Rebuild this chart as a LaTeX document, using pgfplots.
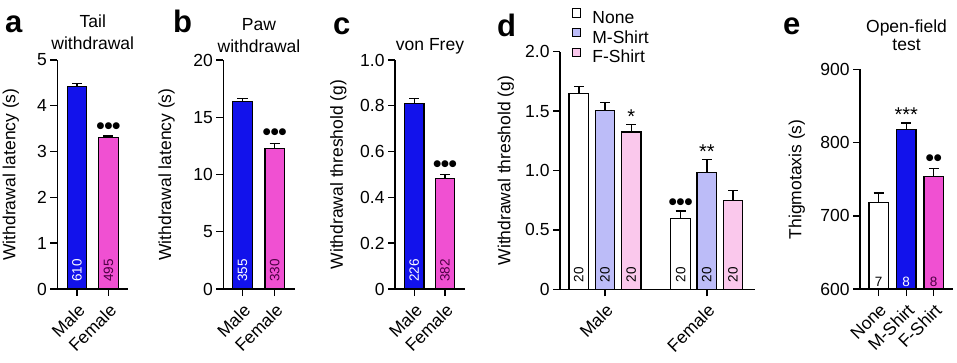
\documentclass[border=0pt]{standalone}
\usepackage{fontspec}
\setmainfont{Liberation Sans}
\newfontfamily\djv{DejaVu Sans}
\usepackage{pgfplots}
\pgfplotsset{compat=1.18}
\usetikzlibrary{calc}

\definecolor{mblue}{RGB}{18,18,235}
\definecolor{fpink}{RGB}{240,80,210}
\definecolor{lblue}{RGB}{188,188,248}
\definecolor{lpink}{RGB}{250,200,236}
\definecolor{dnum}{RGB}{75,0,65}

\newcommand\ff{\fontsize{17.5bp}{20bp}\selectfont}
\newcommand\nf{\fontsize{13.5bp}{15bp}\selectfont}
\newcommand\lf{\fontsize{31bp}{34bp}\selectfont\bfseries}
\newcommand\af{\fontsize{20bp}{20bp}\selectfont}
\newcommand\sdots[1]{{\djv\fontsize{9bp}{9bp}\selectfont #1}}

\tikzset{xext/.style={line width=1.4bp, black}}

\pgfplotsset{
  panel/.style={
    scale only axis,
    axis x line*=bottom, axis y line*=left,
    axis line style={line width=1.4bp, black},
    every tick/.style={black, line width=1.4bp},
    major tick length=7bp,
    tick align=outside,
    ymin=0,
    ybar, bar width=19.5bp,
    tick label style={font=\ff},
    label style={font=\ff},
    /pgf/number format/assume math mode=true,
    x tick label style={rotate=45, anchor=north east, inner sep=1bp},
    xticklabel shift=5bp,
    ylabel style={anchor=south},
    minor tick num=0,
    clip mode=individual,
    error bars/y dir=plus, error bars/y explicit,
    error bars/error mark options={rotate=90, line width=1.4bp, mark size=5bp, black},
    error bars/error bar style={line width=1.4bp, black},
    every axis plot/.append style={draw=black, line width=1.2bp},
  },
}

\begin{document}
\begin{tikzpicture}
\path[use as bounding box] (0,0) rectangle (957bp,363bp);

% ---------- a ----------
\begin{axis}[panel, at={(57.5bp,74bp)}, anchor=south west, width=70.5bp, height=229bp,
  xmin=0.377, xmax=2.623, ymax=5, ytick={0,1,2,3,4,5},
  xtick={1,2}, xticklabels={Male,Female},
  ylabel={Withdrawal latency (s)},
  ylabel style={at={($(rel axis cs:0,0.5)+(-35bp,0)$)}}]
\addplot[fill=mblue, bar shift=0pt] coordinates {(1,4.43) +- (0,0.06)};
\addplot[fill=fpink, bar shift=0pt] coordinates {(2,3.30) +- (0,0.04)};
\draw[xext] ([xshift=-7bp]rel axis cs:0,0) -- (rel axis cs:0,0);
\node[rotate=90, anchor=west, text=white, font=\nf, inner sep=0pt] at ([yshift=7bp]axis cs:1,0) {610};
\node[rotate=90, anchor=west, text=dnum, font=\nf, inner sep=0pt] at ([yshift=7bp]axis cs:2,0) {495};
\node[inner sep=0pt] at ([yshift=10bp]axis cs:2,3.34) {\sdots{●●●}};
\end{axis}

% ---------- b ----------
\begin{axis}[panel, at={(223.3bp,74bp)}, anchor=south west, width=71.7bp, height=229bp,
  xmin=0.404, xmax=2.63, ymax=20, ytick={0,5,10,15,20},
  xtick={1,2}, xticklabels={Male,Female},
  ylabel={Withdrawal latency (s)},
  ylabel style={at={($(rel axis cs:0,0.5)+(-45bp,0)$)}}]
\addplot[fill=mblue, bar shift=0pt] coordinates {(1,16.4) +- (0,0.26)};
\addplot[fill=fpink, bar shift=0pt] coordinates {(2,12.3) +- (0,0.40)};
\draw[xext] ([xshift=-7bp]rel axis cs:0,0) -- (rel axis cs:0,0);
\node[rotate=90, anchor=west, text=white, font=\nf, inner sep=0pt] at ([yshift=7bp]axis cs:1,0) {355};
\node[rotate=90, anchor=west, text=dnum, font=\nf, inner sep=0pt] at ([yshift=7bp]axis cs:2,0) {330};
\node[inner sep=0pt] at ([yshift=11bp]axis cs:2,12.7) {\sdots{●●●}};
\end{axis}

% ---------- c ----------
\begin{axis}[panel, at={(395bp,74bp)}, anchor=south west, width=70bp, height=229bp,
  xmin=0.371, xmax=2.65, ymax=1, ytick={0,0.2,0.4,0.6,0.8,1.0},
  yticklabels={0,0.2,0.4,0.6,0.8,1.0},
  xtick={1,2}, xticklabels={Male,Female},
  ylabel={Withdrawal threshold (g)},
  ylabel style={at={($(rel axis cs:0,0.5)+(-45bp,0)$)}}]
\addplot[fill=mblue, bar shift=0pt] coordinates {(1,0.81) +- (0,0.022)};
\addplot[fill=fpink, bar shift=0pt] coordinates {(2,0.483) +- (0,0.016)};
\draw[xext] ([xshift=-7bp]rel axis cs:0,0) -- (rel axis cs:0,0);
\node[rotate=90, anchor=west, text=white, font=\nf, inner sep=0pt] at ([yshift=7bp]axis cs:1,0) {226};
\node[rotate=90, anchor=west, text=dnum, font=\nf, inner sep=0pt] at ([yshift=7bp]axis cs:2,0) {382};
\node[inner sep=0pt] at ([yshift=10.7bp]axis cs:2,0.499) {\sdots{●●●}};
\end{axis}

% ---------- d ----------
\begin{axis}[panel, at={(560bp,73.7bp)}, anchor=south west, width=195bp, height=237.6bp,
  xmin=0.558, xmax=2.473, ymax=2, ytick={0,0.5,1.0,1.5,2.0},
  yticklabels={0,0.5,1.0,1.5,2.0},
  xtick={1,2}, xticklabels={Male,Female},
  ylabel={Withdrawal threshold (g)},
  ylabel style={at={($(rel axis cs:0,0.5)+(-42.5bp,0)$)}},
  legend style={at={(0.06,1.184)}, anchor=north west, draw=none, fill=none, font=\ff,
    inner sep=0pt, row sep=1.5bp, nodes={text height=12bp, text depth=2bp, inner ysep=1bp, inner xsep=3bp}},
  legend cell align=left,
  legend image code/.code={\draw[#1, line width=1bp] (0bp,1.2bp) rectangle (8.5bp,9.7bp); \path[draw=none, fill=none] (0bp,0bp) -- (17bp,0bp);}]
\addplot[fill=white, bar shift=-26.2bp] coordinates {(1,1.65) +- (0,0.056) (2,0.598) +- (0,0.061)};
\addlegendentry{None}
\addplot[fill=lblue, bar shift=0pt] coordinates {(1,1.503) +- (0,0.067) (2,0.985) +- (0,0.109)};
\addlegendentry{M-Shirt}
\addplot[fill=lpink, bar shift=26.2bp] coordinates {(1,1.324) +- (0,0.065) (2,0.746) +- (0,0.084)};
\addlegendentry{F-Shirt}
\draw[xext] ([xshift=-7bp]rel axis cs:0,0) -- (rel axis cs:0,0);
\node[rotate=90, anchor=west, text=black, font=\nf, inner sep=0pt] at ([xshift=-26.2bp,yshift=7bp]axis cs:1,0) {20};
\node[rotate=90, anchor=west, text=black, font=\nf, inner sep=0pt] at ([yshift=7bp]axis cs:1,0) {20};
\node[rotate=90, anchor=west, text=black, font=\nf, inner sep=0pt] at ([xshift=26.2bp,yshift=7bp]axis cs:1,0) {20};
\node[rotate=90, anchor=west, text=black, font=\nf, inner sep=0pt] at ([xshift=-26.2bp,yshift=7bp]axis cs:2,0) {20};
\node[rotate=90, anchor=west, text=black, font=\nf, inner sep=0pt] at ([yshift=7bp]axis cs:2,0) {20};
\node[rotate=90, anchor=west, text=black, font=\nf, inner sep=0pt] at ([xshift=26.2bp,yshift=7bp]axis cs:2,0) {20};
\node[anchor=base, inner sep=0pt, font=\af] at ([xshift=26.2bp,yshift=1bp]axis cs:1,1.389) {*};
\node[anchor=base, inner sep=0pt, font=\af] at ([yshift=1bp]axis cs:2,1.094) {**};
\node[inner sep=0pt] at ([xshift=-26.2bp,yshift=9bp]axis cs:2,0.659) {\sdots{●●●}};
\end{axis}

% ---------- e ----------
\begin{axis}[panel, at={(860bp,74bp)}, anchor=south west, width=93bp, height=219.5bp,
  xmin=0.32, xmax=3.70, ymin=600, ymax=900, ytick={600,700,800,900},
  xtick={1,2,3}, xticklabels={None,M-Shirt,F-Shirt},
  ylabel={Thigmotaxis (s)},
  ylabel style={at={($(rel axis cs:0,0.5)+(-51.5bp,0)$)}}]
\addplot[fill=white, bar shift=0pt] coordinates {(1,718) +- (0,13)};
\addplot[fill=mblue, bar shift=0pt] coordinates {(2,818) +- (0,9)};
\addplot[fill=fpink, bar shift=0pt] coordinates {(3,754) +- (0,11)};
\draw[xext] ([xshift=-7bp]rel axis cs:0,0) -- (rel axis cs:0,0);
\node[anchor=base, text=black, font=\nf, inner sep=0pt] at ([yshift=2.5bp]axis cs:1,600) {7};
\node[anchor=base, text=white, font=\nf, inner sep=0pt] at ([yshift=2.5bp]axis cs:2,600) {8};
\node[anchor=base, text=dnum, font=\nf, inner sep=0pt] at ([yshift=2.5bp]axis cs:3,600) {8};
\node[anchor=base, inner sep=0pt, font=\af] at ([yshift=1bp]axis cs:2,827) {***};
\node[inner sep=0pt] at ([yshift=10.4bp]axis cs:3,765) {\sdots{●●}};
\end{axis}

% ---------- panel letters and titles ----------
\node[anchor=base west, inner sep=0pt, font=\lf] at (5bp,330bp) {a};
\node[anchor=base west, inner sep=0pt, font=\lf] at (173bp,330bp) {b};
\node[anchor=base west, inner sep=0pt, font=\lf] at (333bp,328bp) {c};
\node[anchor=base west, inner sep=0pt, font=\lf] at (497bp,326bp) {d};
\node[anchor=base west, inner sep=0pt, font=\lf] at (783bp,328bp) {e};

\node[anchor=base, inner sep=0pt, font=\ff] at (92.75bp,335bp) {Tail};
\node[anchor=base, inner sep=0pt, font=\ff] at (92.75bp,313bp) {withdrawal};
\node[anchor=base, inner sep=0pt, font=\ff] at (259bp,332bp) {Paw};
\node[anchor=base, inner sep=0pt, font=\ff] at (259bp,310bp) {withdrawal};
\node[anchor=base, inner sep=0pt, font=\ff] at (430bp,312bp) {von Frey};
\node[anchor=base, inner sep=0pt, font=\ff] at (906.5bp,330bp) {Open-field};
\node[anchor=base, inner sep=0pt, font=\ff] at (906.5bp,312bp) {test};
\end{tikzpicture}
\end{document}
